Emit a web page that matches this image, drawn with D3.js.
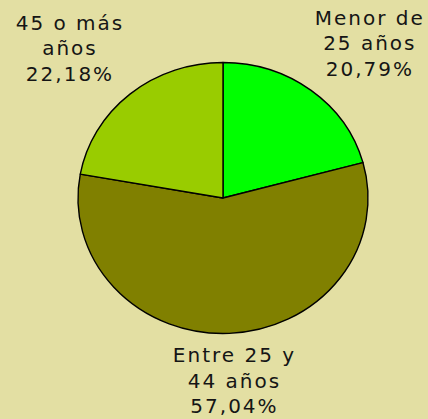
<!DOCTYPE html>
<html>
<head>
<meta charset="utf-8">
<script src="https://cdn.jsdelivr.net/npm/d3@7"></script>
<style>
  html, body { margin: 0; padding: 0; background: #E3DFA3; }
  svg { display: block; }
</style>
</head>
<body>
<div id="chart"></div>
<script>
// Age groups, share in percent, slice colours
const labels = [["Menor de", "25 años"], ["Entre 25 y", "44 años"], ["45 o más", "años"]];
const values = [20.79, 57.04, 22.18];
const colors = ["#00FF00", "#808000", "#99CC00"];

const width = 428, height = 419;
const cx = 223, cy = 198;
const rx = 145, ry = 135.5;       // pie is drawn slightly squashed
const labelRx = 240, labelRy = 195;
const lineHeight = 25.5;

const svg = d3.select("#chart").append("svg")
    .attr("width", width)
    .attr("height", height);

svg.append("rect")
    .attr("width", width)
    .attr("height", height)
    .attr("fill", "#E3DFA3");

const pie = d3.pie().sort(null).value(d => d)(values);
const arc = d3.arc().innerRadius(0).outerRadius(rx);

const g = svg.append("g")
    .attr("transform", `translate(${cx},${cy}) scale(1,${ry / rx})`);

g.selectAll("path")
    .data(pie)
    .join("path")
    .attr("d", arc)
    .attr("fill", (d, i) => colors[i])
    .attr("stroke", "#000")
    .attr("stroke-width", 1.4)
    .attr("stroke-linejoin", "round")
    .attr("vector-effect", "non-scaling-stroke");

// Labels: three lines centred on a point outside the slice's mid angle
const fmt = v => v.toFixed(2).replace(".", ",") + "%";

pie.forEach((d, i) => {
    const a = (d.startAngle + d.endAngle) / 2;
    let x = cx + labelRx * Math.sin(a);
    let y = cy - labelRy * Math.cos(a);
    const lines = labels[i].concat([fmt(values[i])]);

    // keep the last line above the bottom edge
    if (y + 7 + lineHeight > height - 6) y = height - 6 - 7 - lineHeight;

    const text = svg.append("text")
        .attr("font-family", "'DejaVu Sans', Verdana, sans-serif")
        .attr("font-size", 20)
        .attr("letter-spacing", 2)
        .attr("fill", "#151515")
        .attr("text-anchor", "middle");

    lines.forEach((t, j) => {
        text.append("tspan")
            .attr("x", x + 1)
            .attr("y", y + 7 + (j - 1) * lineHeight)
            .text(t);
    });

    // keep the block inside the picture horizontally
    const box = text.node().getBBox();
    let shift = 0;
    if (box.x + box.width > width - 1) shift = width - 1 - (box.x + box.width);
    if (box.x < 1) shift = 1 - box.x;
    if (shift) text.selectAll("tspan").attr("x", x + 1 + shift);
});
</script>
</body>
</html>
